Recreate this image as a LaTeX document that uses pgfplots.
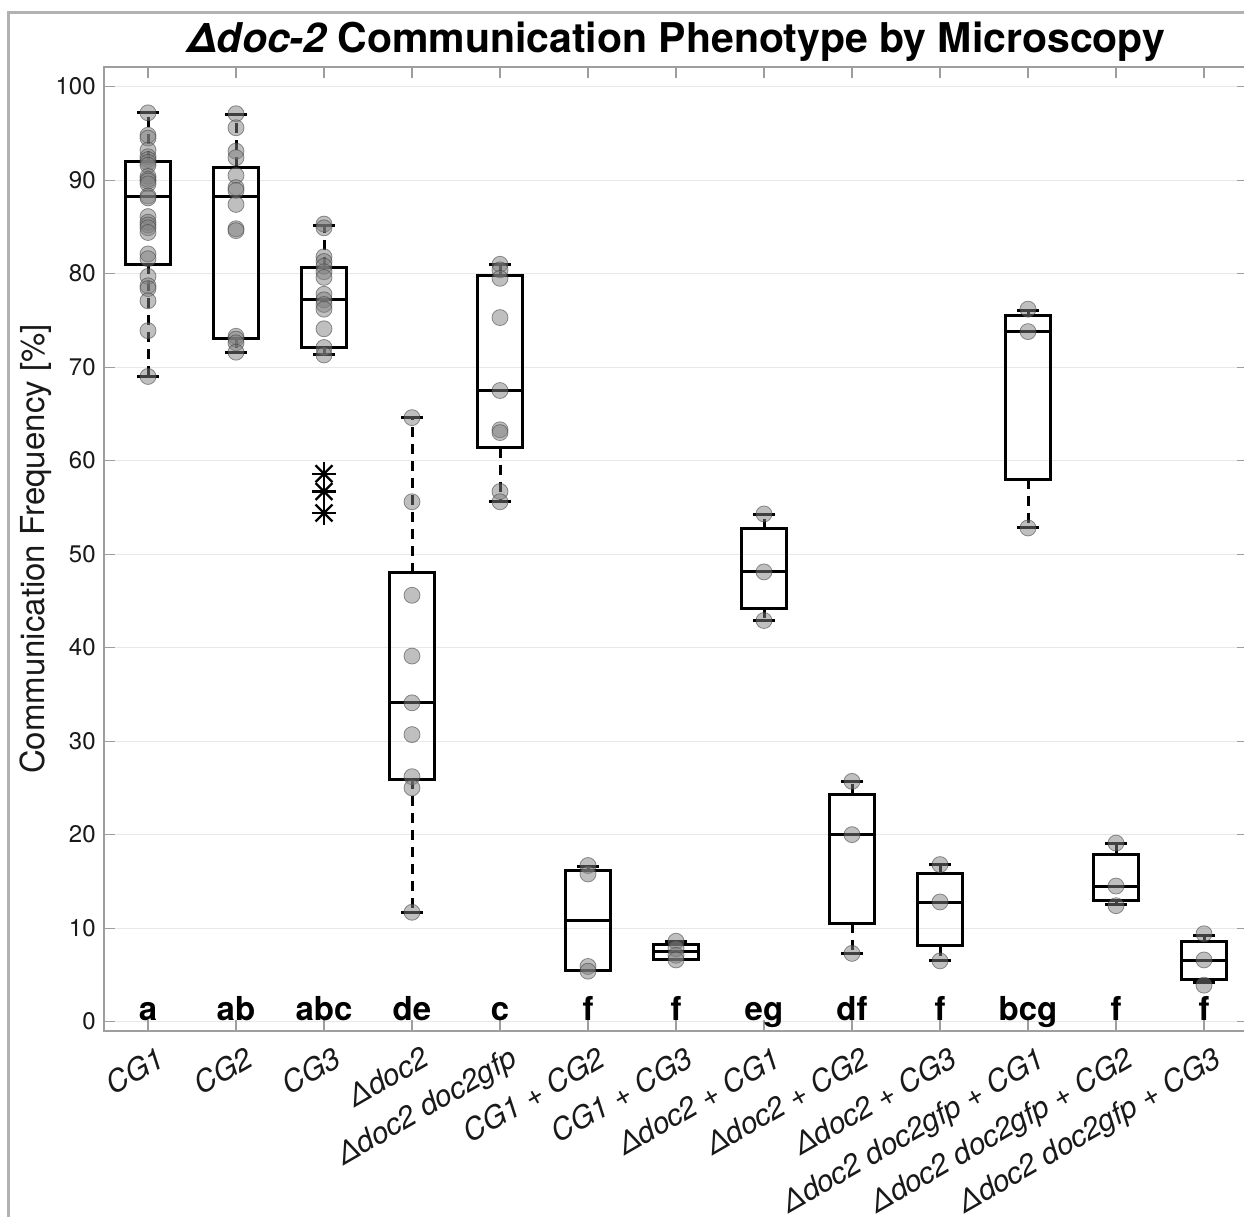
\documentclass[border=0pt]{standalone}
\usepackage{fontspec}
\setmainfont{TeX Gyre Heros}
\usepackage{pgfplots}
\pgfplotsset{compat=1.18}
\usepgfplotslibrary{statistics}

\definecolor{axisgray}{gray}{0.62}
\definecolor{labelgray}{gray}{0.1}
\definecolor{gridgray}{gray}{0.91}
\definecolor{framegray}{gray}{0.70}

\tikzset{
  whisker stem/.style={black, line width=1.5pt, dash pattern=on 5pt off 3.5pt},
  whisker cap/.style={black, line width=1.5pt, solid},
  boxline/.style={black, line width=1.5pt, solid},
  sig/.style={font=\fontsize{16.5}{16.5}\selectfont\bfseries, anchor=base, inner sep=0pt},
}

% dashed whisker stems with solid caps
\pgfplotsset{
  boxplot/draw/lower whisker/.code={%
    \draw[whisker stem]
      (boxplot box cs:\pgfplotsboxplotvalue{lower quartile},0.5) --
      (boxplot box cs:\pgfplotsboxplotvalue{lower whisker},0.5);
    \draw[whisker cap]
      (boxplot whisker cs:\pgfplotsboxplotvalue{lower whisker},0) --
      (boxplot whisker cs:\pgfplotsboxplotvalue{lower whisker},1);
  },
  boxplot/draw/upper whisker/.code={%
    \draw[whisker stem]
      (boxplot box cs:\pgfplotsboxplotvalue{upper quartile},0.5) --
      (boxplot box cs:\pgfplotsboxplotvalue{upper whisker},0.5);
    \draw[whisker cap]
      (boxplot whisker cs:\pgfplotsboxplotvalue{upper whisker},0) --
      (boxplot whisker cs:\pgfplotsboxplotvalue{upper whisker},1);
  },
  pts/.style={only marks, mark=*, mark size=4pt,
    mark options={fill=black!50, fill opacity=0.5, draw=black!75, draw opacity=0.55, line width=0.4pt}},
}

\begin{document}
\begin{tikzpicture}
\begin{axis}[
  at={(0pt,0pt)}, anchor=south west,
  scale only axis, width=572pt, height=482pt,
  xmin=0.5, xmax=13.5, ymin=-1, ymax=102.1,
  xtick={1,...,13},
  xticklabels={CG1, CG2, CG3, Δdoc2, Δdoc2 doc2gfp, CG1 + CG2, CG1 + CG3,
    Δdoc2 + CG1, Δdoc2 + CG2, Δdoc2 + CG3, Δdoc2 doc2gfp + CG1,
    Δdoc2 doc2gfp + CG2, Δdoc2 doc2gfp + CG3},
  ytick={0,10,...,100},
  xtick pos=both, ytick pos=both,
  tick align=inside, major tick length=5.5pt,
  axis line style={axisgray, line width=0.6pt},
  every tick/.style={axisgray, line width=0.6pt},
  ymajorgrids, major grid style={gridgray, line width=0.6pt},
  /pgf/number format/assume math mode=true,
  yticklabel style={font=\fontsize{12}{12}\selectfont, text=labelgray,
    inner sep=0pt, anchor=east, xshift=-4pt},
  xticklabel style={font=\fontsize{15}{15}\selectfont\itshape, text=labelgray,
    rotate=30, anchor=north east, inner sep=0pt, yshift=-8pt},
  ylabel={Communication Frequency [\%]},
  ylabel style={font=\fontsize{16.5}{16.5}\selectfont, text=labelgray,
    at={(axis description cs:-0.0516,0.5)}, anchor=base},
  title={{\itshape Δdoc-2} Communication Phenotype by Microscopy},
  title style={font=\fontsize{20.5}{20.5}\selectfont\bfseries,
    at={(axis description cs:0.5,1)}, anchor=base, yshift=1pt},
  boxplot/draw direction=y,
  boxplot/box extend=0.51, boxplot/whisker extend=0.24,
  boxplot/every box/.style={boxline},
  boxplot/every median/.style={boxline},
]

% boxes: lower whisker, quartiles, median, upper whisker
\addplot[boxline, boxplot prepared={draw position=1, lower whisker=69.0, lower quartile=81.0, median=88.2, upper quartile=92.0, upper whisker=97.2}] coordinates {};
\addplot[boxline, boxplot prepared={draw position=2, lower whisker=71.6, lower quartile=73.1, median=88.2, upper quartile=91.4, upper whisker=97.0}] coordinates {};
\addplot[boxline, boxplot prepared={draw position=3, lower whisker=71.3, lower quartile=72.1, median=77.2, upper quartile=80.7, upper whisker=85.2}] coordinates {};
\addplot[boxline, boxplot prepared={draw position=4, lower whisker=11.7, lower quartile=25.9, median=34.1, upper quartile=48.0, upper whisker=64.6}] coordinates {};
\addplot[boxline, boxplot prepared={draw position=5, lower whisker=55.6, lower quartile=61.4, median=67.5, upper quartile=79.8, upper whisker=81.0}] coordinates {};
\addplot[boxline, boxplot prepared={draw position=6, lower whisker=5.45, lower quartile=5.5, median=10.8, upper quartile=16.2, upper whisker=16.6}] coordinates {};
\addplot[boxline, boxplot prepared={draw position=7, lower whisker=6.6, lower quartile=6.7, median=7.45, upper quartile=8.3, upper whisker=8.55}] coordinates {};
\addplot[boxline, boxplot prepared={draw position=8, lower whisker=42.9, lower quartile=44.2, median=48.1, upper quartile=52.7, upper whisker=54.2}] coordinates {};
\addplot[boxline, boxplot prepared={draw position=9, lower whisker=7.3, lower quartile=10.5, median=20.0, upper quartile=24.3, upper whisker=25.7}] coordinates {};
\addplot[boxline, boxplot prepared={draw position=10, lower whisker=6.5, lower quartile=8.1, median=12.75, upper quartile=15.8, upper whisker=16.8}] coordinates {};
\addplot[boxline, boxplot prepared={draw position=11, lower whisker=52.8, lower quartile=58.0, median=73.8, upper quartile=75.5, upper whisker=76.1}] coordinates {};
\addplot[boxline, boxplot prepared={draw position=12, lower whisker=12.5, lower quartile=13.0, median=14.45, upper quartile=17.9, upper whisker=19.0}] coordinates {};
\addplot[boxline, boxplot prepared={draw position=13, lower whisker=4.2, lower quartile=4.5, median=6.5, upper quartile=8.55, upper whisker=9.25}] coordinates {};

% outliers
\addplot[only marks, mark=+, mark size=6pt, black, line width=1.2pt] coordinates {(3,58.6) (3,56.7) (3,54.4)};
\addplot[only marks, mark=x, mark size=6pt, black, line width=1.2pt] coordinates {(3,58.6) (3,56.7) (3,54.4)};

% individual measurements
\addplot[pts] coordinates {
  (1,97.2) (1,94.8) (1,94.5) (1,93.2) (1,92.5) (1,92.2) (1,91.9) (1,91.6)
  (1,90.4) (1,90.1) (1,89.9) (1,89.6) (1,88.3) (1,88.1) (1,86.1) (1,85.5)
  (1,85.2) (1,84.9) (1,84.4) (1,82.1) (1,81.6) (1,79.7) (1,78.7) (1,78.4)
  (1,77.1) (1,73.9) (1,69.0)
  (2,97.1) (2,95.6) (2,93.1) (2,92.4) (2,90.5) (2,89.2) (2,88.9) (2,87.4)
  (2,84.8) (2,84.6) (2,73.3) (2,73.0) (2,72.6) (2,71.6)
  (3,85.3) (3,84.9) (3,81.8) (3,81.3) (3,80.8) (3,80.2) (3,79.6) (3,77.8)
  (3,77.2) (3,76.7) (3,76.2) (3,74.1) (3,72.1) (3,71.3)
  (4,64.6) (4,55.6) (4,45.6) (4,39.1) (4,34.1) (4,30.7) (4,26.2) (4,25.0) (4,11.7)
  (5,81.0) (5,80.4) (5,79.5) (5,75.3) (5,67.5) (5,63.3) (5,63.0) (5,56.7) (5,55.6)
  (6,16.7) (6,15.8) (6,5.9) (6,5.4)
  (7,8.6) (7,7.8) (7,7.1) (7,6.6)
  (8,54.3) (8,48.1) (8,42.9)
  (9,25.7) (9,20.0) (9,7.3)
  (10,16.8) (10,12.8) (10,6.5)
  (11,76.2) (11,73.8) (11,52.8)
  (12,19.1) (12,14.5) (12,12.4)
  (13,9.4) (13,6.6) (13,3.9)
};

% significance groups
\node[sig] at (axis cs:1,0.1) {a};
\node[sig] at (axis cs:2,0.1) {ab};
\node[sig] at (axis cs:3,0.1) {abc};
\node[sig] at (axis cs:4,0.1) {de};
\node[sig] at (axis cs:5,0.1) {c};
\node[sig] at (axis cs:6,0.1) {f};
\node[sig] at (axis cs:7,0.1) {f};
\node[sig] at (axis cs:8,0.1) {eg};
\node[sig] at (axis cs:9,0.1) {df};
\node[sig] at (axis cs:10,0.1) {f};
\node[sig] at (axis cs:11,0.1) {bcg};
\node[sig] at (axis cs:12,0.1) {f};
\node[sig] at (axis cs:13,0.1) {f};
\end{axis}

% figure frame
\draw[framegray, line width=1.5pt] (-47.65pt,-120pt) -- (-47.65pt,509.25pt) -- (620pt,509.25pt);

\pgfresetboundingbox
\path[use as bounding box] (-52pt,-93pt) rectangle (570pt,515.5pt);
\end{tikzpicture}
\end{document}
